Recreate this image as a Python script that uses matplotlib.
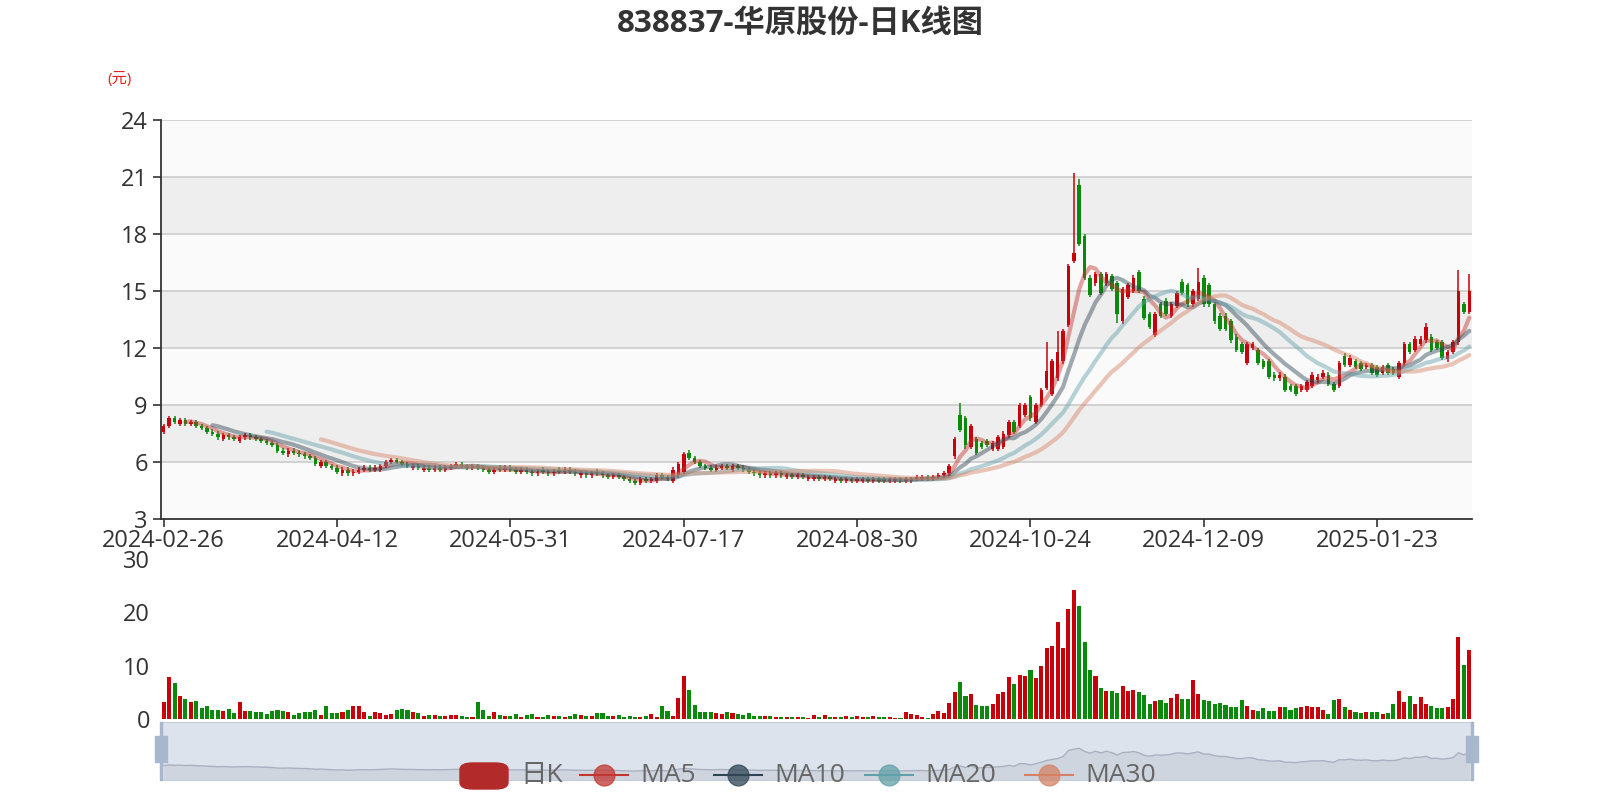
import numpy as np
import pandas as pd
import matplotlib
matplotlib.use("Agg")
import matplotlib.pyplot as plt
from matplotlib.patches import FancyBboxPatch, Rectangle
from matplotlib.lines import Line2D

plt.rcParams['font.family'] = ['Open Sans', 'Noto Sans CJK SC', 'DejaVu Sans']

title = "838837-华原股份-日K线图"
tick_labels = ["2024-02-26", "2024-04-12", "2024-05-31", "2024-07-17",
               "2024-08-30", "2024-10-24", "2024-12-09", "2025-01-23"]
tick_index = [0, 32, 64, 96, 128, 160, 192, 224]

opens = [
    7.6, 7.9, 8.3, 8.0, 8.2, 8.0, 8.1, 7.9, 7.8, 7.6,
    7.5, 7.2, 7.4, 7.3, 7.1, 7.3, 7.4, 7.3, 7.2, 7.1,
    7.0, 6.9, 6.6, 6.4, 6.6, 6.5, 6.4, 6.3, 6.2, 5.8,
    6.0, 5.8, 5.7, 5.4, 5.6, 5.4, 5.5, 5.6, 5.7, 5.6,
    5.6, 5.8, 6.0, 6.1, 6.0, 5.9, 5.7, 5.8, 5.6, 5.7,
    5.6, 5.7, 5.6, 5.7, 5.8, 5.9, 5.8, 5.7, 5.8, 5.7,
    5.6, 5.5, 5.7, 5.6, 5.7, 5.6, 5.5, 5.6, 5.5, 5.4,
    5.6, 5.5, 5.4, 5.6, 5.5, 5.6, 5.5, 5.3, 5.4, 5.3,
    5.5, 5.4, 5.3, 5.2, 5.3, 5.2, 5.1, 5.0, 4.9, 5.1,
    5.0, 5.0, 5.3, 5.2, 5.0, 5.3, 5.5, 6.5, 6.2, 6.0,
    5.8, 5.7, 5.6, 5.7, 5.8, 5.6, 5.8, 5.7, 5.6, 5.5,
    5.4, 5.3, 5.4, 5.3, 5.4, 5.2, 5.3, 5.2, 5.3, 5.1,
    5.1, 5.2, 5.1, 5.2, 5.0, 5.1, 5.0, 5.1, 5.0, 5.0,
    5.1, 5.0, 5.1, 5.1, 5.0, 5.0, 5.1, 5.0, 5.0, 5.1,
    5.1, 5.2, 5.1, 5.2, 5.3, 5.4, 6.3, 8.5, 8.3, 6.8,
    7.2, 7.0, 7.1, 6.7, 6.7, 6.8, 7.4, 8.1, 7.9, 8.5,
    9.4, 8.1, 9.0, 9.9, 9.6, 10.4, 11.3, 13.2, 16.6, 20.6,
    17.9, 15.7, 15.4, 15.9, 15.4, 15.8, 15.4, 13.4, 14.7, 15.0,
    16.0, 14.6, 13.8, 12.7, 14.3, 14.5, 13.7, 14.2, 15.5, 15.3,
    14.3, 14.6, 15.7, 15.3, 14.3, 13.7, 13.7, 13.4, 12.6, 12.2,
    11.2, 12.0, 11.9, 11.3, 11.3, 10.6, 10.4, 10.5, 10.0, 10.0,
    9.8, 9.8, 10.0, 10.3, 10.5, 10.6, 10.1, 10.0, 11.6, 11.1,
    11.3, 11.2, 11.0, 11.1, 11.0, 10.7, 11.1, 10.9, 10.5, 11.2,
    12.2, 11.9, 12.2, 12.4, 12.6, 12.3, 12.3, 11.4, 11.8, 12.3,
    14.3, 13.9]

closes = [
    7.9, 8.3, 8.1, 8.2, 8.0, 8.1, 7.9, 7.8, 7.6, 7.5,
    7.3, 7.4, 7.3, 7.2, 7.3, 7.4, 7.3, 7.2, 7.1, 7.0,
    6.9, 6.6, 6.5, 6.6, 6.5, 6.4, 6.3, 6.2, 5.9, 6.0,
    5.8, 5.7, 5.5, 5.6, 5.4, 5.5, 5.6, 5.7, 5.6, 5.7,
    5.8, 6.0, 6.1, 6.0, 5.9, 5.8, 5.8, 5.7, 5.7, 5.6,
    5.7, 5.6, 5.7, 5.8, 5.9, 5.8, 5.7, 5.8, 5.7, 5.6,
    5.5, 5.6, 5.6, 5.7, 5.6, 5.5, 5.6, 5.5, 5.4, 5.5,
    5.5, 5.4, 5.5, 5.5, 5.6, 5.5, 5.4, 5.4, 5.3, 5.4,
    5.4, 5.3, 5.2, 5.3, 5.2, 5.1, 5.0, 4.9, 5.1, 5.0,
    5.1, 5.3, 5.2, 5.1, 5.6, 5.9, 6.4, 6.2, 6.0, 5.8,
    5.7, 5.6, 5.7, 5.8, 5.7, 5.8, 5.7, 5.6, 5.5, 5.4,
    5.3, 5.4, 5.3, 5.4, 5.3, 5.3, 5.2, 5.3, 5.2, 5.2,
    5.2, 5.1, 5.2, 5.1, 5.1, 5.0, 5.1, 5.0, 5.1, 5.1,
    5.0, 5.1, 5.0, 5.0, 5.1, 5.1, 5.0, 5.1, 5.1, 5.2,
    5.2, 5.1, 5.2, 5.3, 5.4, 5.8, 7.2, 7.7, 6.9, 7.9,
    6.5, 6.8, 6.9, 7.0, 7.3, 7.5, 8.1, 7.6, 9.0, 9.0,
    8.3, 9.0, 9.8, 10.8, 11.3, 11.8, 12.9, 16.3, 17.0, 17.5,
    15.7, 14.8, 15.9, 14.9, 15.9, 15.1, 13.8, 15.1, 15.3, 15.7,
    15.0, 13.6, 13.1, 13.8, 13.7, 13.8, 14.3, 14.9, 14.9, 14.3,
    15.0, 15.5, 14.3, 14.3, 13.4, 13.0, 13.0, 12.4, 11.9, 11.8,
    12.2, 12.2, 11.2, 11.0, 10.5, 10.4, 10.6, 9.8, 9.8, 9.6,
    10.0, 10.2, 10.6, 10.5, 10.7, 10.1, 9.8, 11.2, 11.1, 11.5,
    11.0, 10.9, 11.1, 10.7, 10.6, 11.0, 10.7, 10.7, 11.2, 12.2,
    11.8, 12.5, 12.5, 13.1, 11.9, 12.0, 11.5, 11.8, 12.3, 15.0,
    13.9, 15.0]

# notable wick extremes (index: value)
high_marks = {147: 9.1, 163: 12.3, 165: 12.9, 168: 21.2, 169: 20.9, 191: 16.2, 233: 13.3, 239: 16.1, 241: 15.9}
low_marks = {183: 12.6, 176: 13.3, 148: 6.7}

volumes = [
    3.1, 7.8, 6.8, 4.4, 3.8, 3.1, 3.4, 2.0, 2.5, 1.7,
    1.6, 1.5, 1.8, 1.2, 3.1, 1.5, 1.5, 1.3, 1.3, 1.0,
    1.5, 1.7, 1.5, 1.3, 0.8, 1.1, 1.4, 1.4, 1.7, 0.8,
    2.5, 1.1, 1.1, 1.3, 1.6, 2.5, 2.4, 1.3, 0.6, 1.3,
    1.1, 0.8, 0.9, 1.7, 1.8, 1.7, 1.3, 1.1, 0.6, 0.8,
    0.8, 0.5, 0.5, 0.8, 0.8, 0.5, 0.4, 0.4, 3.1,
    1.6, 0.6, 1.3, 0.8, 0.6, 0.6, 0.9, 0.3, 0.7, 0.9,
    0.4, 0.3, 0.8, 0.5, 0.6, 0.3, 0.5, 1.0, 0.8, 0.6,
    0.6, 1.1, 1.2, 0.6, 0.5, 0.8, 0.4, 0.6, 0.4, 0.4,
    0.6, 1.0, 0.3, 2.5, 1.5, 0.6, 4.0, 8.0, 5.4,
    2.6, 1.4, 1.4, 1.4, 1.1, 1.0, 1.3, 1.1, 1.0, 0.8,
    1.1, 0.6, 0.5, 0.6, 0.5, 0.4, 0.3, 0.3, 0.3, 0.3,
    0.3, 0.2, 0.8, 0.4, 0.8, 0.4, 0.3, 0.3, 0.5, 0.4,
    0.6, 0.3, 0.4, 0.6, 0.3, 0.4, 0.3, 0.2, 0.1,
    1.3, 0.9, 0.8, 0.4, 0.2, 1.0, 1.5, 1.1, 3.0, 5.0,
    6.9, 4.3, 4.6, 2.7, 2.4, 2.4, 2.9, 4.6, 5.1, 7.8,
    6.5, 8.3, 8.1, 9.2, 7.6, 9.9, 13.3, 13.7, 18.2, 13.3,
    20.6, 24.2, 21.1, 14.5, 9.1, 8.0, 5.9, 5.2, 5.3, 4.8,
    6.1, 5.3, 5.5, 5.1, 4.5, 2.9, 3.3, 3.5, 3.0, 4.0,
    4.6, 3.7, 3.8, 7.3, 4.6, 3.6, 3.4, 2.9, 3.0, 2.7,
    2.2, 2.2, 3.5, 2.4, 1.7, 1.5, 2.1, 1.5, 1.5, 2.3,
    2.3, 1.7, 2.1, 2.3, 2.4, 2.2, 2.2, 1.7, 1.0, 3.5,
    3.8, 2.3, 1.7, 1.3, 1.1, 1.3, 1.3, 1.3, 1.0, 1.1,
    2.9, 5.3, 3.2, 4.3, 2.9, 4.2, 2.9, 2.4, 2.0, 2.0, 2.2,
    3.7, 15.3, 10.2, 12.9]

n = min(len(opens), len(closes), len(volumes))
o = np.array(opens[:n]); c = np.array(closes[:n]); v = np.array(volumes[:n])
x = np.arange(n)
hi = np.maximum(o, c) + 0.12
lo = np.minimum(o, c) - 0.12
for k, val in high_marks.items():
    if k < n: hi[k] = val
for k, val in low_marks.items():
    if k < n: lo[k] = val
up = c >= o
RED, GREEN = '#c8000a', '#0a8a0a'
cols = np.where(up, RED, GREEN)

W, H = 1600, 800
fig = plt.figure(figsize=(16, 8), dpi=100)
fig.patch.set_facecolor('white')
def fx(px): return px / W
def fy(py): return 1 - py / H

L, R = 161, 1472
ax = fig.add_axes([fx(L), fy(519), fx(R - L), (519 - 120) / H])
ax.set_xlim(-0.5, n - 0.5)
ax.set_ylim(3, 24)
for i, y0 in enumerate(range(3, 24, 3)):
    ax.axhspan(y0, y0 + 3, color='#fafafa' if i % 2 == 0 else '#eeeeee', zorder=0, lw=0)
for y0 in range(6, 25, 3):
    ax.axhline(y0, color='#cccccc', lw=1.2, zorder=1)
ax.vlines(x, lo, hi, colors=cols, lw=1.1, zorder=3)
body_h = np.maximum(np.abs(c - o), 0.06)
ax.bar(x, body_h, bottom=np.minimum(o, c), width=0.65, color=cols, zorder=4, lw=0)

ma_cols = {5: '#c23531', 10: '#2f4554', 20: '#61a0a8', 30: '#d48265'}
cs = pd.Series(c)
for p, col in ma_cols.items():
    ax.plot(x, cs.rolling(p).mean(), color=col, lw=3, alpha=0.45, zorder=5,
            solid_capstyle='round')

ax.set_yticks(range(3, 25, 3))
ax.set_xticks(tick_index)
ax.set_xticklabels(tick_labels)
ax.tick_params(axis='both', labelsize=17, colors='#333333', length=6, width=1.2)
ax.tick_params(axis='x', pad=1)
for s in ['top', 'right']:
    ax.spines[s].set_visible(False)
for s in ['left', 'bottom']:
    ax.spines[s].set_color('#333333'); ax.spines[s].set_linewidth(1.3)

# volume
axv = fig.add_axes([fx(L), fy(719), fx(R - L), (719 - 559) / H])
axv.bar(x, v, width=0.75, color=cols, lw=0)
axv.set_xlim(-0.5, n - 0.5)
axv.set_ylim(0, 30)
axv.set_yticks([0, 10, 20, 30])
axv.set_xticks([])
axv.tick_params(axis='y', labelsize=17, colors='#333333', length=0, pad=8)
for s in ['top', 'right', 'bottom', 'left']:
    axv.spines[s].set_visible(False)

# data zoom slider
axs = fig.add_axes([fx(L), fy(780), fx(R - L), (780 - 722) / H])
axs.set_facecolor('#dde3ec')
axs.fill_between(x, 0, c, color='#cfd5df', lw=0)
axs.plot(x, c, color='#a9b1c1', lw=1)
axs.set_xlim(-0.5, n - 0.5)
axs.set_ylim(0, 32)
axs.set_xticks([]); axs.set_yticks([])
for s in axs.spines.values():
    s.set_color('#c5ccd8')
for hx in [L, R]:
    fig.patches.append(Rectangle((fx(hx - 1), fy(780)), fx(2), (780 - 722) / H,
                                 transform=fig.transFigure, color='#a7b7cc'))
    fig.patches.append(Rectangle((fx(hx - 6), fy(762)), fx(12), 26 / H,
                                 transform=fig.transFigure, color='#a7b7cc'))

# title and unit
fig.text(0.5, fy(24), title, ha='center', va='center', fontsize=22.5,
         fontweight='bold', color='#333333')
fig.text(fx(120), fy(80), "(元)", ha='center', va='center', fontsize=11, color='#e02020')

# legend
ly = fy(775)
fig.patches.append(FancyBboxPatch((fx(460), fy(789)), fx(48), 26 / H,
                                  boxstyle='round,pad=0,rounding_size=0.008',
                                  transform=fig.transFigure, color='#b22a2a'))
fig.text(fx(520), ly, "日K", fontsize=19, color='#666666', va='center')
for lx, col, lab in [(580, '#c23531', 'MA5'), (714, '#2f4554', 'MA10'),
                     (865, '#61a0a8', 'MA20'), (1025, '#d48265', 'MA30')]:
    fig.lines.append(Line2D([fx(lx), fx(lx + 48)], [ly, ly], transform=fig.transFigure,
                            color=col, lw=1.5))
    fig.lines.append(Line2D([fx(lx + 24)], [ly], transform=fig.transFigure, marker='o',
                            markersize=15, color=col, alpha=0.75))
    fig.text(fx(lx + 60), ly, lab, fontsize=19, color='#666666', va='center')

fig.savefig('out.png', dpi=100)
